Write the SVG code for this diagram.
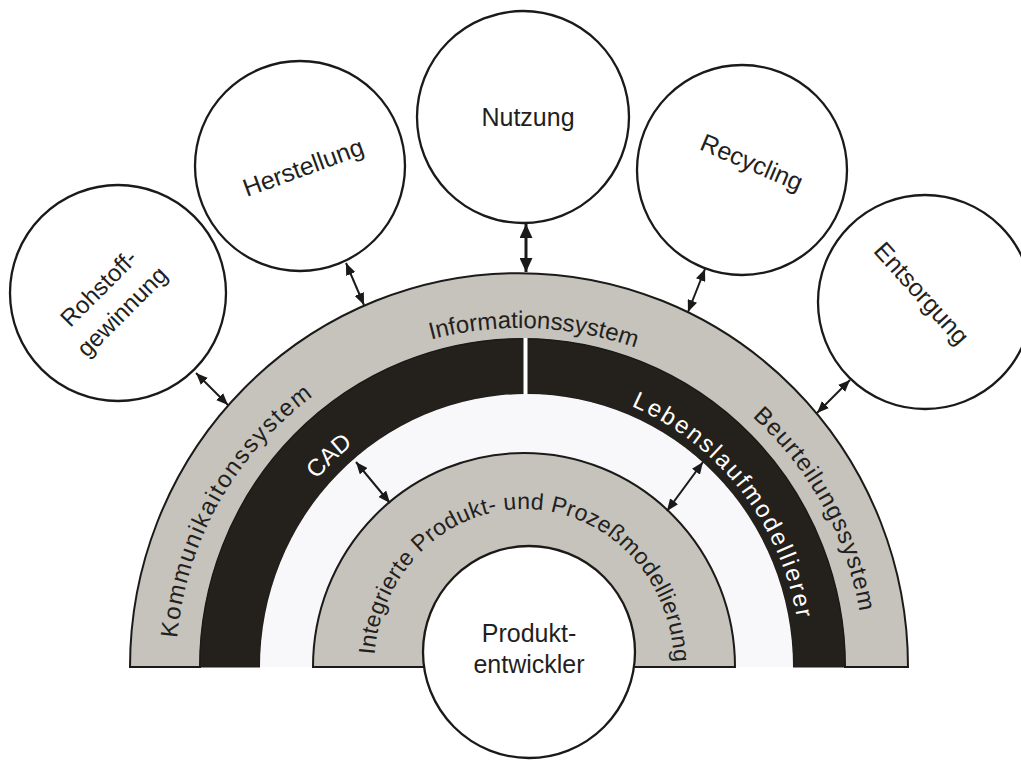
<svg xmlns="http://www.w3.org/2000/svg" width="1021" height="760" viewBox="0 0 1021 760">
<defs>
<style>
.node circle{fill:#fff;stroke:#1c1a18;stroke-width:2.3}
.lbl{font-family:"Liberation Sans",Arial,sans-serif;fill:#231f20;font-size:25px;text-anchor:middle}
.arc{font-family:"Liberation Sans",Arial,sans-serif;font-size:24px;fill:#231f20}
.wt{fill:#fff}
.gray{fill:#c6c3bc;stroke:#1c1a18;stroke-width:2}
.conn line{stroke:#1c1a18;stroke-width:2}
.conn line.heavy{stroke-width:3}
</style>
<marker id="ah" viewBox="0 0 12 10" refX="12" refY="5" markerWidth="12" markerHeight="10" markerUnits="userSpaceOnUse" orient="auto-start-reverse"><path d="M0,0 L12,5 L0,10 Z" fill="#1c1a18"/></marker>
<marker id="ahb" viewBox="0 0 14 13" refX="14" refY="6.5" markerWidth="14" markerHeight="13" markerUnits="userSpaceOnUse" orient="auto-start-reverse"><path d="M0,0 L14,6.5 L0,13 Z" fill="#1c1a18"/></marker>
<path id="pOuter" d="M 176 667 A 344 339 0 0 1 864 667"/>
<path id="pBlack" d="M 247 667 A 277 283 0 0 1 801 667"/>
<path id="pInner" d="M 374 667 A 150 158 0 0 1 674 667"/>
</defs>
<rect width="1021" height="760" fill="#fff"/>

<g id="outer-band">
<path class="gray" d="M 130 667 A 389 394 0 0 1 908 667 L 845 667 A 322.5 328 0 0 0 200 667 Z"/>
<text class="arc" text-anchor="middle"><textPath href="#pOuter" startOffset="16.1%" letter-spacing="1.7">Kommunikaitonssystem</textPath></text>
<text class="arc" text-anchor="middle"><textPath href="#pOuter" startOffset="51.3%">Informationssystem</textPath></text>
<text class="arc" text-anchor="middle"><textPath href="#pOuter" startOffset="84.3%" letter-spacing="1">Beurteilungssystem</textPath></text>
</g>

<g id="black-band">
<path d="M 200 667 A 322.5 328 0 0 1 845 667 L 793 667 A 266.5 273 0 0 0 260 667 Z" fill="#24211d" stroke="#1c1a18" stroke-width="1"/>
<rect x="523.5" y="338" width="4" height="57" fill="#fff"/>
<text class="arc wt" text-anchor="middle"><textPath href="#pBlack" startOffset="26.1%">CAD</textPath></text>
<text class="arc wt" text-anchor="middle"><textPath href="#pBlack" startOffset="78.6%" letter-spacing="2.2">Lebenslaufmodellierer</textPath></text>
</g>

<g id="gap">
<path d="M 260 667 A 266.5 273 0 0 1 793 667 L 735 667 A 211 214 0 0 0 313 667 Z" fill="#f8f7f9"/>
</g>

<g id="inner-band">
<path class="gray" d="M 313 667 A 211 214 0 0 1 735 667 Z"/>
<text class="arc" text-anchor="middle" style="font-size:23px"><textPath href="#pInner" startOffset="50.8%" letter-spacing="0.3">Integrierte Produkt- und Prozeßmodellierung</textPath></text>
</g>

<g id="produktentwickler" class="node">
<circle cx="529" cy="652" r="106"/>
<text class="lbl" x="529" y="642">Produkt-</text>
<text class="lbl" x="529" y="673">entwickler</text>
</g>

<g id="rohstoffgewinnung" class="node">
<circle cx="118" cy="293" r="108"/>
<g transform="translate(110.5,300) rotate(-45)">
<text class="lbl" style="font-size:24px" x="0" y="-8.5">Rohstoff-</text>
<text class="lbl" style="font-size:24px" x="0" y="24.5">gewinnung</text>
</g>
</g>

<g id="herstellung" class="node">
<circle cx="300" cy="166" r="105"/>
<text class="lbl" transform="translate(303,167) rotate(-20)" x="0" y="9">Herstellung</text>
</g>

<g id="nutzung" class="node">
<circle cx="523" cy="117" r="106"/>
<text class="lbl" x="528" y="126">Nutzung</text>
</g>

<g id="recycling" class="node">
<circle cx="742" cy="170" r="105"/>
<text class="lbl" transform="translate(752,162) rotate(23)" x="0" y="9">Recycling</text>
</g>

<g id="entsorgung" class="node">
<circle cx="925" cy="302" r="107"/>
<text class="lbl" transform="translate(922,293) rotate(48)" x="0" y="9">Entsorgung</text>
</g>

<g id="connectors" class="conn">
<line x1="196" y1="373" x2="228" y2="405" marker-start="url(#ah)" marker-end="url(#ah)"/>
<line x1="346" y1="263" x2="364" y2="305" marker-start="url(#ah)" marker-end="url(#ah)"/>
<line class="heavy" x1="526" y1="224" x2="526" y2="272" marker-start="url(#ahb)" marker-end="url(#ahb)"/>
<line x1="705" y1="269" x2="688" y2="312" marker-start="url(#ah)" marker-end="url(#ah)"/>
<line x1="850" y1="380" x2="817" y2="413" marker-start="url(#ah)" marker-end="url(#ah)"/>
<line x1="356" y1="462" x2="390" y2="503" marker-start="url(#ah)" marker-end="url(#ah)"/>
<line x1="703" y1="462" x2="667" y2="511" marker-start="url(#ah)" marker-end="url(#ah)"/>
</g>
</svg>
